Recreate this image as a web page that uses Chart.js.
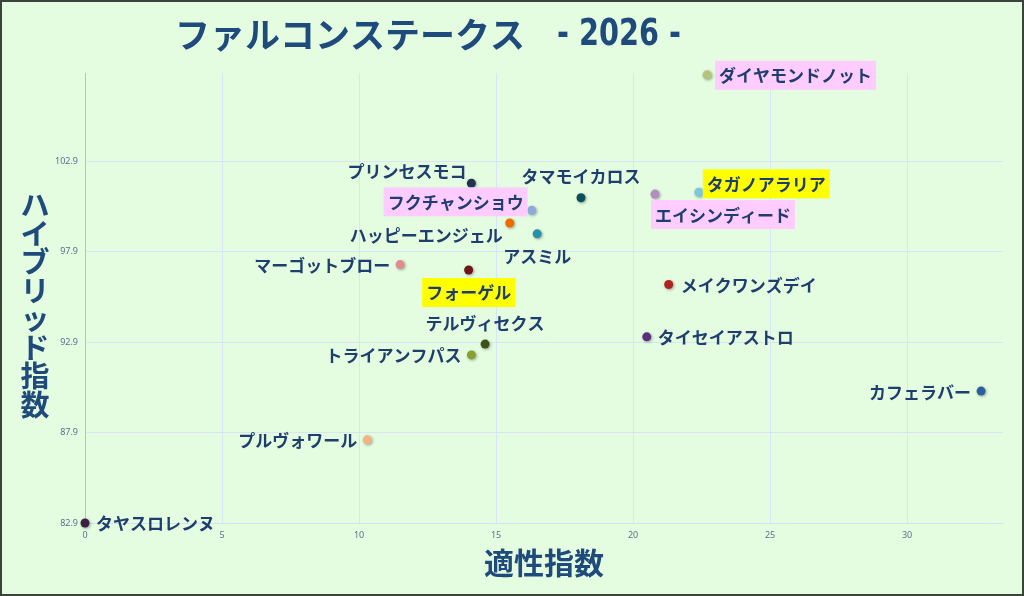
<!DOCTYPE html>
<html>
<head>
<meta charset="utf-8">
<script src="https://cdn.jsdelivr.net/npm/chart.js@4.4.1/dist/chart.umd.min.js"></script>
<style>
  body { margin: 0; background: #ffffff; }
  #wrap {
    width: 1024px;
    height: 596px;
    box-sizing: border-box;
    border: 2px solid #3c423c;
    background: #e4fde0;
  }
</style>
</head>
<body>
<div id="wrap"><canvas id="chart"></canvas></div>
<script>
// horses, x = 適性指数, y = ハイブリッド指数
const horses = [
  "タヤスロレンヌ", "プルヴォワール", "トライアンフパス", "テルヴィセクス",
  "フォーゲル", "マーゴットブロー", "ハッピーエンジェル", "フクチャンショウ",
  "アスミル", "プリンセスモコ", "タマモイカロス", "エイシンディード",
  "タガノアラリア", "ダイヤモンドノット", "メイクワンズデイ", "タイセイアストロ",
  "カフェラバー",
];
const aptitude = [
  0, 10.3, 14.1, 14.6,
  14.0, 11.5, 15.5, 16.3,
  16.5, 14.1, 18.1, 20.8,
  22.4, 22.7, 21.3, 20.5,
  32.7,
];
const hybrid = [
  82.9, 87.5, 92.2, 92.8,
  96.9, 97.2, 99.5, 100.2,
  98.9, 101.7, 100.9, 101.1,
  101.2, 107.7, 96.1, 93.2,
  90.2,
];
const dotColors = [
  "#3d1f42", "#f4b183", "#86a032", "#3d5218",
  "#6e1518", "#e08c8c", "#f06a00", "#8eaadb",
  "#2592aa", "#1f3352", "#0f4f5c", "#b28cc2",
  "#7cc6de", "#b4c47e", "#b02222", "#5b3080",
  "#2c5f9e",
];
// "" = none, otherwise label background
const highlight = [
  "", "", "", "",
  "#ffff00", "", "", "#ffccff",
  "", "", "", "#ffccff",
  "#ffff00", "#ffccff", "", "",
  "",
];
// where the name sits next to its dot: side, vertical shift, gap
const labelSide = [
  ["r", 0, 11], ["l", 0, 10], ["l", 0, 10], ["t", -22, 0],
  ["b", 22, 0], ["l", 0, 10], ["l", 12, 7], ["l", -9, 8],
  ["b", 22, 0], ["l", -13, 5], ["t", -22, 0], ["br", 20, 0],
  ["r", -9, 8], ["r", 0, 12], ["r", 0, 12], ["r", 0, 11],
  ["l", 0, 10],
];
const xTicks = [0, 5, 10, 15, 20, 25, 30];
const yTicks = [82.9, 87.9, 92.9, 97.9, 102.9];

const NAVY = "#1f4a7c";
const TICK = "#5b6f8e";

const dotShadow = {
  id: "dotShadow",
  beforeDatasetsDraw(chart) {
    const ctx = chart.ctx;
    ctx.save();
    ctx.shadowColor = "rgba(0,0,0,0.35)";
    ctx.shadowBlur = 3;
    ctx.shadowOffsetX = 1;
    ctx.shadowOffsetY = 1;
  },
  afterDatasetsDraw(chart) {
    chart.ctx.restore();
  },
};

const nameLabels = {
  id: "nameLabels",
  afterDatasetsDraw(chart) {
    const ctx = chart.ctx;
    const meta = chart.getDatasetMeta(0);
    ctx.save();
    ctx.font = 'bold 17px "Noto Sans CJK JP"';
    ctx.textBaseline = "middle";
    ctx.textAlign = "left";
    meta.data.forEach((pt, i) => {
      const [side, dy, gap] = labelSide[i];
      const w = ctx.measureText(horses[i]).width;
      const ty = pt.y + dy;
      let tx;
      if (side === "r") tx = pt.x + gap;
      else if (side === "l") tx = pt.x - gap - w;
      else if (side === "br") tx = pt.x;
      else tx = pt.x - w / 2;
      if (highlight[i]) {
        ctx.fillStyle = highlight[i];
        ctx.fillRect(tx - 4, ty - 14, w + 8, 29);
      }
      ctx.fillStyle = "#1f3d6e";
      ctx.fillText(horses[i], tx, ty + 1);
    });
    ctx.restore();
  },
};

const headings = {
  id: "headings",
  afterDraw(chart) {
    const ctx = chart.ctx;
    ctx.save();
    ctx.fillStyle = NAVY;
    ctx.textBaseline = "middle";
    ctx.textAlign = "left";
    ctx.font = 'bold 35px "Noto Sans CJK JP"';
    ctx.fillText("ファルコンステークス", 173, 33);
    // condensed year part, squeezed horizontally
    ctx.font = 'bold 38px "DejaVu Sans"';
    const year = "- 2026 -";
    const yw = ctx.measureText(year).width;
    ctx.translate(555, 33);
    ctx.scale(124 / yw, 1);
    ctx.fillText(year, 0, 0);
    ctx.setTransform(1, 0, 0, 1, 0, 0);
    ctx.restore();

    // vertical y-axis title, upright characters
    ctx.save();
    ctx.fillStyle = NAVY;
    ctx.textBaseline = "middle";
    ctx.font = 'bold 29px "Noto Sans CJK JP"';
    ctx.textAlign = "center";
    const yTitle = "ハイブリッド指数";
    [...yTitle].forEach((ch, k) => {
      ctx.fillText(ch, 33, 203 + k * 28.5);
    });
    ctx.restore();
  },
};

new Chart(document.getElementById("chart"), {
  type: "scatter",
  data: {
    datasets: [
      {
        data: aptitude.map((x, i) => ({ x: x, y: hybrid[i] })),
        pointBackgroundColor: dotColors,
        pointBorderWidth: 0,
        pointRadius: 4.5,
        clip: false,
      },
    ],
  },
  options: {
    responsive: true,
    maintainAspectRatio: false,
    animation: false,
    layout: {
      padding: { left: 0, right: 19, top: 71, bottom: 0 },
    },
    plugins: {
      legend: { display: false },
      tooltip: { enabled: false },
    },
    scales: {
      x: {
        type: "linear",
        min: 0,
        max: 33.5,
        afterBuildTicks: (s) => {
          s.ticks = xTicks.map((v) => ({ value: v }));
        },
        afterFit: (s) => {
          s.height = 71;
        },
        ticks: {
          color: TICK,
          padding: 7,
          font: { size: 9, family: "Noto Sans" },
        },
        grid: {
          color: "#d9e5f6",
          drawTicks: false,
        },
        border: { color: "#d3e0f5" },
        title: {
          display: true,
          text: "適性指数",
          color: NAVY,
          font: { size: 30, weight: "bold", family: "Noto Sans CJK JP" },
          padding: { top: 0, bottom: 13 },
        },
      },
      y: {
        type: "linear",
        min: 82.9,
        max: 107.8,
        afterBuildTicks: (s) => {
          s.ticks = yTicks.map((v) => ({ value: v }));
        },
        afterFit: (s) => {
          s.width = 83;
        },
        ticks: {
          color: TICK,
          padding: 7,
          font: { size: 9, family: "Noto Sans" },
          callback: (v) => Number(v).toFixed(1),
        },
        grid: {
          color: "#d9e5f6",
          drawTicks: false,
        },
        border: { color: "#a9c2f2" },
      },
    },
  },
  plugins: [dotShadow, nameLabels, headings],
});
</script>
</body>
</html>
